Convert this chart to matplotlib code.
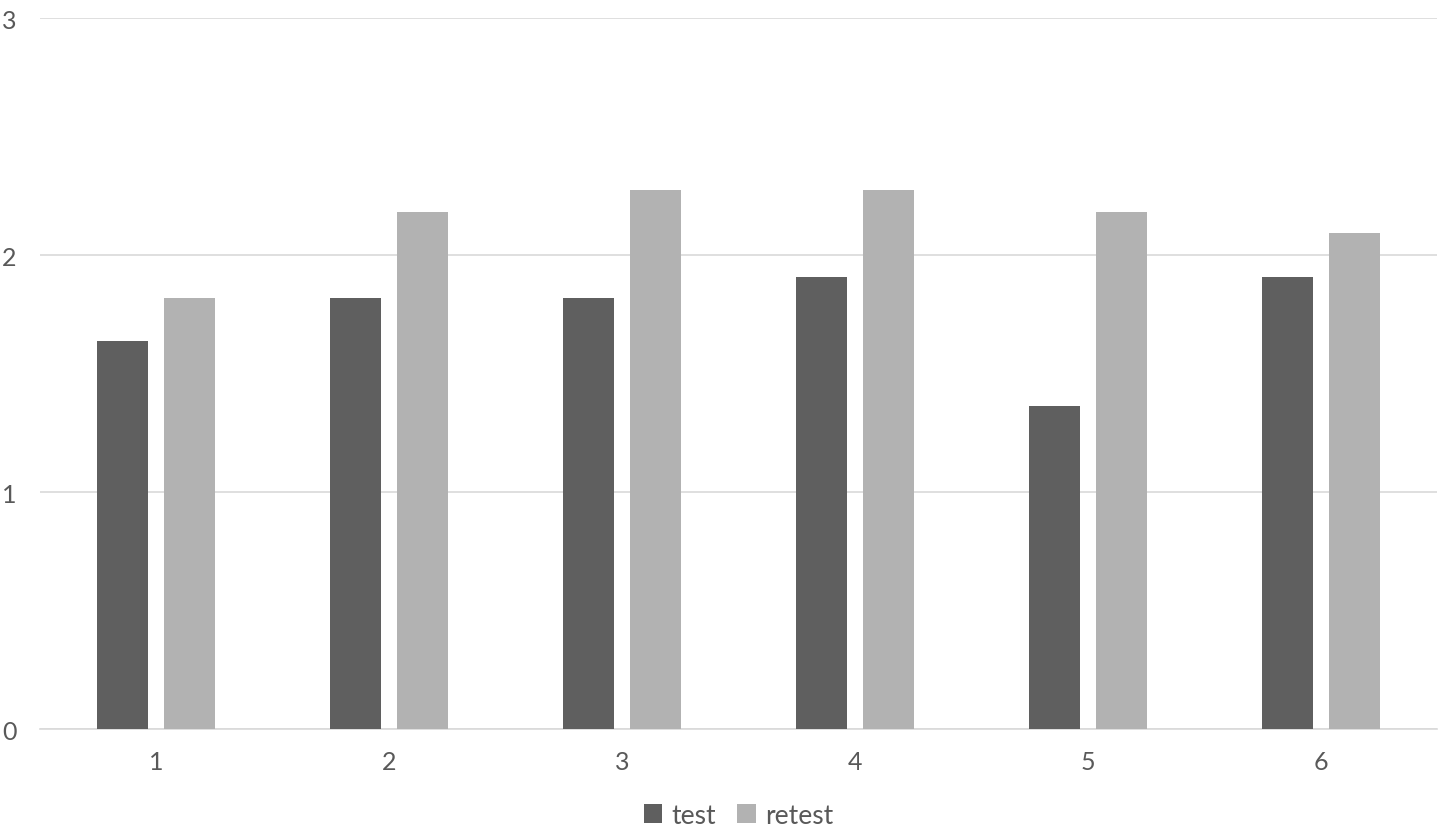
import numpy as np
import matplotlib.pyplot as plt

plt.rcParams['font.family'] = ['Lato', 'DejaVu Sans']

categories = ['1', '2', '3', '4', '5', '6']
test = [1.636, 1.818, 1.818, 1.909, 1.364, 1.909]
retest = [1.818, 2.182, 2.273, 2.273, 2.182, 2.091]


def draw_chart():
    fig = plt.figure(figsize=(14.5, 8.29), dpi=100)
    ax = fig.add_axes([0.0276, 0.1194, 0.9634, 0.8576])

    x = np.arange(len(categories))
    width = 0.219
    offset = 0.144
    ax.bar(x - offset, test, width, color='#5f5f5f', label='test', zorder=3)
    ax.bar(x + offset, retest, width, color='#b2b2b2', label='retest', zorder=3)

    ax.set_xlim(-0.5, len(categories) - 0.5)
    ax.set_ylim(0, 3)
    ax.set_yticks([0, 1, 2, 3])
    ax.set_xticks(x)
    ax.set_xticklabels(categories)

    # light horizontal gridlines, no frame
    ax.grid(axis='y', color='#d9d9d9', linewidth=1.2, zorder=0)
    for side in ['top', 'right', 'left']:
        ax.spines[side].set_visible(False)
    ax.spines['bottom'].set_color('#d9d9d9')
    ax.spines['bottom'].set_linewidth(1.2)
    ax.tick_params(axis='both', length=0, labelsize=18, colors='#595959')
    ax.tick_params(axis='x', pad=15)
    ax.tick_params(axis='y', pad=17)

    ax.legend(loc='upper center', bbox_to_anchor=(0.5, -0.07), ncol=2,
              frameon=False, fontsize=19, handlelength=0.7, handleheight=0.7,
              handletextpad=0.35, columnspacing=0.8, labelcolor='#595959')

    fig.savefig('out.png', dpi=100)


if __name__ == "__main__":
    draw_chart()
